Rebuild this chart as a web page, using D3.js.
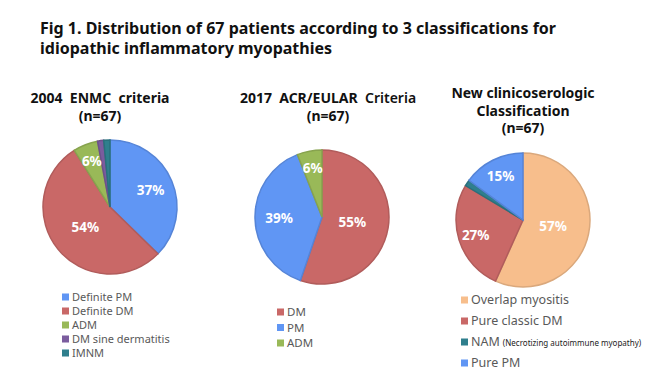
<!DOCTYPE html>
<meta charset="utf-8">
<script src="https://d3js.org/d3.v7.min.js"></script>
<style>
  body { margin: 0; background: #fff; }
  text { font-family: "Noto Sans", "Open Sans", sans-serif; }
</style>
<body>
<div id="chart"></div>
<script>
// patient counts (n = 67 in each panel)
var enmcLabels = ["Definite PM", "Definite DM", "ADM", "DM sine dermatitis", "IMNM"];
var enmcCounts = [25, 36, 4, 1, 1];

var acrLabels = ["DM", "PM", "ADM"];
var acrCounts = [37, 26, 4];

var newLabels = ["Overlap myositis", "Pure classic DM", "NAM", "Pure PM"];
var newCounts = [38, 18, 1, 10];

var width = 650, height = 386;

var fill = d3.scaleOrdinal()
  .domain(["Definite PM", "PM", "Pure PM", "Definite DM", "DM", "Pure classic DM",
           "ADM", "DM sine dermatitis", "IMNM", "NAM", "Overlap myositis"])
  .range(["#6096f4", "#6096f4", "#6096f4", "#c96867", "#c96867", "#c96867",
          "#99b958", "#7b5c9e", "#2f7f8d", "#2f7f8d", "#f7be8c"]);

var svg = d3.select("#chart").append("svg")
  .attr("width", width)
  .attr("height", height);

// title
var title = svg.append("text")
  .attr("x", 40)
  .attr("y", 34)
  .attr("font-size", 16)
  .attr("font-weight", "bold")
  .attr("fill", "#111");
title.append("tspan").text("Fig 1. Distribution of 67 patients according to 3 classifications for");
title.append("tspan").attr("x", 40).attr("dy", 20).text("idiopathic inflammatory myopathies");

var radius = 67;
var pie = d3.pie().sort(null).value(function(d) { return d.value; });
var arc = d3.arc().innerRadius(0).outerRadius(radius);

// small slices get their label further out, like Excel's best fit
var labelPos = d3.scaleLinear().domain([0.3, 0.55]).range([0.74, 0.46]).clamp(true);

function drawPie(cx, cy, labels, counts) {
  var data = labels.map(function(l, i) { return { name: l, value: counts[i] }; });
  var total = d3.sum(counts);
  var g = svg.append("g").attr("transform", "translate(" + cx + "," + cy + ")");
  var arcs = pie(data);

  g.selectAll("path")
    .data(arcs)
    .enter().append("path")
      .attr("d", arc)
      .attr("fill", function(d) { return fill(d.data.name); })
      .attr("stroke", function(d) { return d3.color(fill(d.data.name)).darker(0.35); })
      .attr("stroke-width", 1.5);

  g.selectAll("text")
    .data(arcs.filter(function(d) { return d.data.value / total >= 0.05; }))
    .enter().append("text")
      .attr("transform", function(d) {
        var r = radius * labelPos(d.data.value / total);
        var a = (d.startAngle + d.endAngle) / 2;
        return "translate(" + (Math.sin(a) * r) + "," + (-Math.cos(a) * r) + ")";
      })
      .attr("text-anchor", "middle")
      .attr("dy", "0.35em")
      .attr("font-size", 13.5)
      .attr("font-weight", "bold")
      .attr("fill", "#fff")
      .text(function(d) { return Math.round(d.data.value / total * 100) + "%"; });
}

function heading(cx, y, lines) {
  lines.forEach(function(line, i) {
    var t = svg.append("text")
      .attr("x", cx)
      .attr("y", y + i * 17.5)
      .attr("text-anchor", "middle")
      .attr("font-size", 14)
      .attr("font-weight", "bold")
      .attr("fill", "#111")
      .attr("xml:space", "preserve");
    line.forEach(function(part) {
      t.append("tspan").attr("font-weight", part[1]).text(part[0]);
    });
  });
}

function legend(x, y, step, labels, size, notes) {
  var g = svg.append("g").attr("transform", "translate(" + x + "," + y + ")");
  var row = g.selectAll("g")
    .data(labels)
    .enter().append("g")
      .attr("transform", function(d, i) { return "translate(0," + (i * step) + ")"; });
  row.append("rect")
    .attr("x", 0).attr("y", -3.5)
    .attr("width", 7).attr("height", 7)
    .attr("fill", function(d) { return fill(d); });
  var t = row.append("text")
    .attr("x", 10)
    .attr("dy", "0.35em")
    .attr("font-size", size)
    .attr("fill", "#595959");
  t.append("tspan").text(function(d) { return d; });
  t.filter(function(d) { return notes[d]; })
    .append("tspan")
      .attr("dx", 3)
      .attr("font-size", 8)
      .attr("fill", "#222")
      .text(function(d) { return notes[d]; });
}

heading(100, 103, [[["2004  ENMC  criteria", "bold"]], [["(n=67)", "bold"]]]);
heading(328, 103, [[["2017  ACR/EULAR  ", "bold"], ["Criteria", "600"]], [["(n=67)", "bold"]]]);
heading(523, 98, [[["New clinicoserologic", "bold"]], [["Classification", "bold"]], [["(n=67)", "bold"]]]);

drawPie(110, 207, enmcLabels, enmcCounts);
drawPie(322, 217, acrLabels, acrCounts);
drawPie(523, 220, newLabels, newCounts);

legend(62, 297, 14, enmcLabels, 11, {});
legend(277, 312, 15.5, acrLabels, 11.5, {});
legend(461, 300, 21, newLabels, 12.5, { "NAM": "(Necrotizing autoimmune myopathy)" });
</script>
</body>
